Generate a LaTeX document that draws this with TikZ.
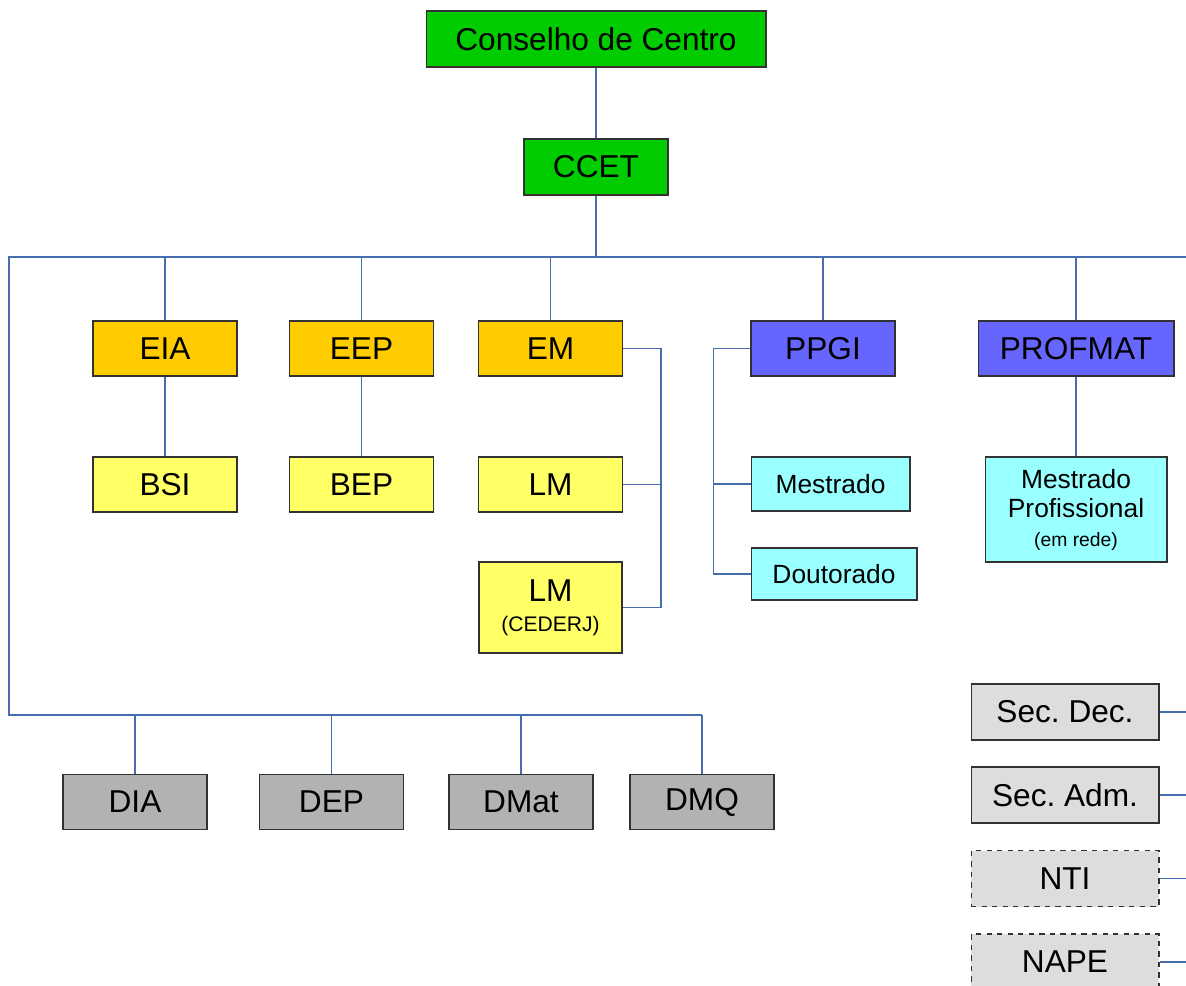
\documentclass[tikz,border=0pt]{standalone}
\usepackage{fontspec}
\setmainfont{Liberation Sans}
\usepackage{tikz}
\usetikzlibrary{positioning,calc}
\usepackage{xcolor}
\definecolor{centergreen}{RGB}{0,204,0}
\definecolor{schoolorange}{RGB}{255,204,0}
\definecolor{courseyellow}{RGB}{255,255,102}
\definecolor{gradblue}{RGB}{102,102,255}
\definecolor{levelcyan}{RGB}{153,255,255}
\definecolor{deptgray}{RGB}{178,178,178}
\definecolor{secgray}{RGB}{221,221,221}
\definecolor{linkblue}{RGB}{70,110,175}
\definecolor{edgegray}{RGB}{50,50,50}
\frenchspacing

\begin{document}
\begin{tikzpicture}[x=0.02cm,y=-0.02cm,
    orgbox/.style={draw=edgegray,line width=0.6pt,inner sep=0pt,align=center,
      font=\fontsize{18}{20}\selectfont,minimum width=2.88cm,minimum height=1.1cm},
    link/.style={draw=linkblue,line width=0.6pt},
    small/.style={font=\fontsize{15}{17}\selectfont}]
    \useasboundingbox (0,0) rectangle (1186,985);
    % top of the chart
    \node[orgbox,fill=centergreen,minimum width=6.8cm,minimum height=1.12cm] (cons) at (596,39) {Conselho de Centro};
    \node[orgbox,fill=centergreen,minimum height=1.12cm] (ccet) at (596,167) {CCET};
    % schools and courses
    \node[orgbox,fill=schoolorange] (eia) at (165,348.5) {EIA};
    \node[orgbox,fill=schoolorange] (eep) at (361.5,348.5) {EEP};
    \node[orgbox,fill=schoolorange] (em) at (550.5,348.5) {EM};
    \node[orgbox,fill=courseyellow] (bsi) at (165,484.5) {BSI};
    \node[orgbox,fill=courseyellow] (bep) at (361.5,484.5) {BEP};
    \node[orgbox,fill=courseyellow] (lm) at (550.5,484.5) {LM};
    \node[orgbox,fill=courseyellow,minimum width=2.86cm,minimum height=1.82cm] (lmc) at (550.5,607.5)
      {LM\\[-3pt]{\fontsize{12}{14}\selectfont(CEDERJ)}};
    % graduate programs
    \node[orgbox,fill=gradblue] (ppgi) at (823,348.5) {PPGI};
    \node[orgbox,fill=gradblue,minimum width=3.92cm] (profmat) at (1076,348.5) {PROFMAT};
    \node[orgbox,small,fill=levelcyan,minimum width=3.18cm,minimum height=1.08cm] (mest) at (830.5,484) {Mestrado};
    \node[orgbox,small,fill=levelcyan,minimum width=3.32cm,minimum height=1.04cm] (dout) at (834,574) {Doutorado};
    \node[orgbox,small,fill=levelcyan,minimum width=3.64cm,minimum height=2.1cm] (mprof) at (1076,509.5)
      {Mestrado\\Profissional\\[-1pt]{\fontsize{11}{13}\selectfont(em rede)}};
    % departments
    \node[orgbox,fill=deptgray] (dia) at (135,802) {DIA};
    \node[orgbox,fill=deptgray] (dep) at (331.5,802) {DEP};
    \node[orgbox,fill=deptgray] (dmat) at (521,802) {DMat};
    \node[orgbox,fill=deptgray] (dmq) at (702,802) {DMQ};
    % secretariats
    \node[orgbox,fill=secgray,minimum width=3.76cm,minimum height=1.12cm] (secdec) at (1065,712) {Sec. Dec.};
    \node[orgbox,fill=secgray,minimum width=3.76cm,minimum height=1.12cm] (secadm) at (1065,795) {Sec. Adm.};
    \node[orgbox,fill=secgray,dashed,minimum width=3.76cm,minimum height=1.12cm] (nti) at (1065,878.5) {NTI};
    \node[orgbox,fill=secgray,dashed,minimum width=3.76cm,minimum height=1.12cm] (nape) at (1065,962) {NAPE};
    % connectors
    \coordinate (busl) at (9,257);
    \coordinate (busr) at (1186,257);
    \coordinate (lowbus) at (9,715);
    \draw[link] (cons) -- (ccet);
    \draw[link] (ccet.south) -- (ccet.south |- busl);
    \draw[link] (busr) -- (busl) -- (lowbus) -- (lowbus -| dmq.north);
    \foreach \n in {eia,eep,em,ppgi,profmat}
      \draw[link] (\n.north) -- (\n.north |- busl);
    \foreach \n in {dia,dep,dmat,dmq}
      \draw[link] (\n.north) -- (\n.north |- lowbus);
    \draw[link] (eia) -- (bsi);
    \draw[link] (eep) -- (bep);
    \draw[link] (profmat) -- (mprof);
    \draw[link] (em.east) -- ++(38,0) coordinate (emx) |- (lmc.east);
    \draw[link] (lm.east) -- (lm.east -| emx);
    \draw[link] (ppgi.west) -- ++(-37,0) coordinate (ppx) |- (dout.west);
    \draw[link] (mest.west) -- (mest.west -| ppx);
    \foreach \n in {secdec,secadm,nti,nape}
      \draw[link] (\n.east) -- (\n.east -| busr);
\end{tikzpicture}
\end{document}
